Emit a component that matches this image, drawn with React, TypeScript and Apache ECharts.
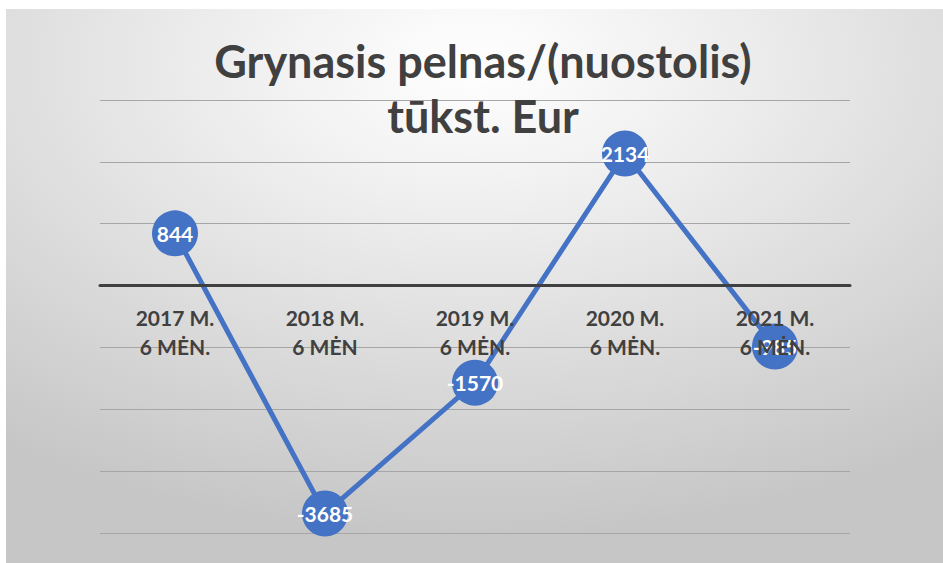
import React, { useEffect, useRef } from "react";
import * as echarts from "echarts";

const categories = ["2017 M.\n6 MĖN.", "2018 M.\n6 MĖN", "2019 M.\n6 MĖN.", "2020 M.\n6 MĖN.", "2021 M.\n6 MĖN."];
const values = [844, -3685, -1570, 2134, -985];
const titleLines = ["Grynasis pelnas/(nuostolis)", "tūkst. Eur"];
const yMin = -4000;
const yMax = 3000;

export default function App() {
  const ref = useRef<HTMLDivElement>(null);
  useEffect(() => {
    if (!ref.current) return;
    const chart = echarts.init(ref.current, null, { renderer: "svg" });
    const font = "Lato, 'Open Sans', sans-serif";
    const gridTop = 100;
    const gridBottom = 30;
    const plotH = 563 - gridTop - gridBottom;
    // move the category axis up so that it sits on the zero value
    const zeroOffset = -plotH * (0 - yMin) / (yMax - yMin);
    chart.setOption({
      animation: false,
      backgroundColor: "#ffffff",
      graphic: [
        {
          type: "rect",
          z: -10,
          shape: { x: 6, y: 9, width: 937, height: 554 },
          style: {
            fill: new echarts.graphic.RadialGradient(0.5, 0.1, 0.85, [
              { offset: 0, color: "#ffffff" },
              { offset: 0.3, color: "#efefef" },
              { offset: 1, color: "#c6c6c6" },
            ]),
          },
          silent: true,
        },
      ],
      title: {
        text: titleLines.join("\n"),
        left: 478,
        textAlign: "center",
        top: 28,
        textStyle: {
          fontFamily: font,
          fontWeight: "bold",
          fontSize: 45,
          lineHeight: 55,
          color: "#404040",
        },
      },
      grid: { left: 100, right: 93, top: gridTop, bottom: gridBottom, outerBoundsMode: "none", containLabel: false },
      xAxis: {
        type: "category",
        data: categories,
        z: 10,
        offset: zeroOffset,
        axisLine: { onZero: false, lineStyle: { color: "#404040", width: 3 } },
        axisTick: { show: false },
        axisLabel: {
          fontFamily: font,
          fontWeight: "bold",
          fontSize: 21,
          color: "#404040",
          lineHeight: 29,
          margin: 17,
        },
      },
      yAxis: {
        type: "value",
        min: yMin,
        max: yMax,
        interval: 1000,
        axisLabel: { show: false },
        axisLine: { show: false },
        axisTick: { show: false },
        splitLine: { lineStyle: { color: "#a6a6a6", width: 1 } },
      },
      series: [
        {
          type: "line",
          data: values,
          symbol: "circle",
          symbolSize: 46,
          lineStyle: { color: "#4472C4", width: 5 },
          itemStyle: { color: "#4472C4" },
          label: {
            show: true,
            position: "inside",
            color: "#ffffff",
            fontFamily: font,
            fontWeight: "bold",
            fontSize: 21,
          },
        },
      ],
    });
    return () => chart.dispose();
  }, []);
  return (
    <div
      ref={ref}
      style={{ position: "absolute", left: 0, top: 0, width: 943, height: 563 }}
    />
  );
}
